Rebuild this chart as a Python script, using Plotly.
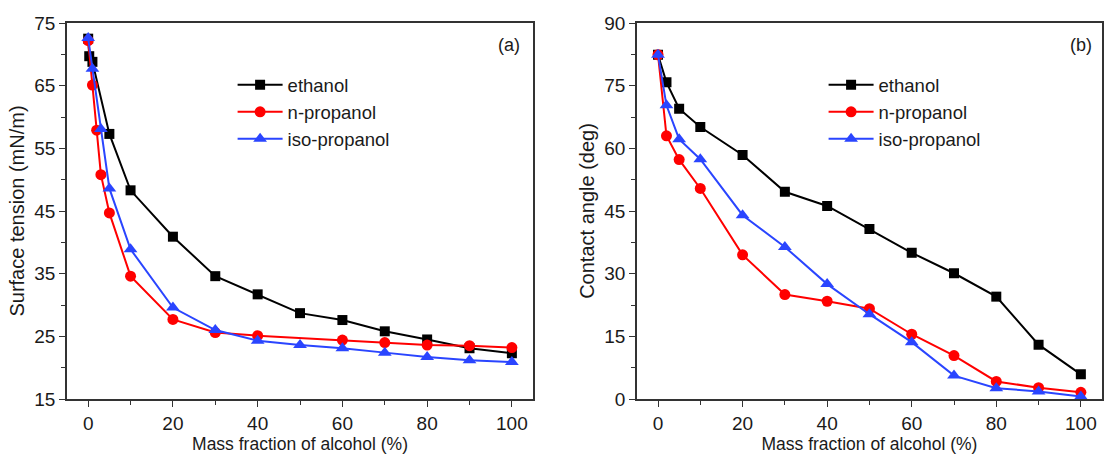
import plotly.graph_objects as go
from plotly.subplots import make_subplots

# Surface tension (mN/m) vs mass fraction of alcohol (%)
st_eth_x = [0, 0.25, 1, 5, 10, 20, 30, 40, 50, 60, 70, 80, 90, 100]
st_eth_y = [72.5, 69.7, 68.8, 57.3, 48.3, 40.9, 34.6, 31.7, 28.7, 27.6, 25.8, 24.5, 23.1, 22.3]
st_npr_x = [0, 1, 2, 3, 5, 10, 20, 30, 40, 60, 70, 80, 90, 100]
st_npr_y = [72.2, 65.1, 57.9, 50.8, 44.7, 34.6, 27.7, 25.6, 25.1, 24.4, 24.0, 23.6, 23.5, 23.2]
st_iso_x = [0, 1, 3, 5, 10, 20, 30, 40, 50, 60, 70, 80, 90, 100]
st_iso_y = [72.6, 67.7, 58.1, 48.6, 38.9, 29.6, 26.0, 24.3, 23.6, 23.1, 22.4, 21.7, 21.2, 20.9]

# Contact angle (deg) vs mass fraction of alcohol (%)
ca_x = [0, 2, 5, 10, 20, 30, 40, 50, 60, 70, 80, 90, 100]
ca_eth_y = [82.4, 75.8, 69.5, 65.1, 58.4, 49.6, 46.2, 40.7, 35.0, 30.1, 24.5, 13.0, 5.9]
ca_npr_y = [82.4, 63.0, 57.3, 50.4, 34.5, 25.0, 23.4, 21.6, 15.5, 10.4, 4.2, 2.7, 1.6]
ca_iso_y = [82.4, 70.3, 62.2, 57.4, 44.0, 36.4, 27.5, 20.3, 13.6, 5.6, 2.6, 1.8, 0.6]

names = ["ethanol", "n-propanol", "iso-propanol"]
colors = ["#000000", "#ff0000", "#2a45ff"]
symbols = ["square", "circle", "triangle-up"]
sizes = [10, 11, 12]

FONT = "Liberation Sans, Arial"
TXT = "#1a1a1a"

fig = make_subplots(rows=1, cols=2, horizontal_spacing=0.1)

st_series = [(st_eth_x, st_eth_y), (st_npr_x, st_npr_y), (st_iso_x, st_iso_y)]
ca_series = [(ca_x, ca_eth_y), (ca_x, ca_npr_y), (ca_x, ca_iso_y)]

for i, (xs, ys) in enumerate(st_series):
    fig.add_trace(go.Scatter(
        x=xs, y=ys, name=names[i], mode="lines+markers",
        line=dict(color=colors[i], width=2),
        marker=dict(symbol=symbols[i], size=sizes[i], color=colors[i]),
        legend="legend"), row=1, col=1)

for i, (xs, ys) in enumerate(ca_series):
    fig.add_trace(go.Scatter(
        x=xs, y=ys, name=names[i], mode="lines+markers",
        line=dict(color=colors[i], width=2),
        marker=dict(symbol=symbols[i], size=sizes[i], color=colors[i]),
        legend="legend2"), row=1, col=2)

axis_common = dict(
    showline=True, linecolor="#333333", linewidth=1.5, mirror=True,
    ticks="outside", ticklen=6, tickwidth=1.3, tickcolor="#333333",
    showgrid=False, zeroline=False,
    tickfont=dict(family=FONT, size=19, color=TXT),
)
xtitle_font = dict(family=FONT, size=17.5, color=TXT)
ytitle_font = dict(family=FONT, size=20, color=TXT)

fig.update_xaxes(**axis_common, range=[-5, 105], tick0=0, dtick=20,
                 minor=dict(dtick=10, ticks="outside", ticklen=4, tickcolor="#333333"),
                 title=dict(text="Mass fraction of alcohol (%)", font=xtitle_font, standoff=4))
fig.update_xaxes(domain=[0, 0.4503], row=1, col=1)
fig.update_xaxes(domain=[0.5506, 1], row=1, col=2)

fig.update_yaxes(**axis_common)
fig.update_yaxes(range=[15, 75], tick0=15, dtick=10,
                 minor=dict(tick0=15, dtick=5, ticks="outside", ticklen=4, tickcolor="#333333"),
                 title=dict(text="Surface tension (mN/m)", font=ytitle_font, standoff=4),
                 row=1, col=1)
fig.update_yaxes(range=[0, 90], tick0=0, dtick=15,
                 minor=dict(tick0=0, dtick=7.5, ticks="outside", ticklen=4, tickcolor="#333333"),
                 title=dict(text="Contact angle (deg)", font=ytitle_font, standoff=4),
                 row=1, col=2)

legend_common = dict(
    bgcolor="rgba(0,0,0,0)", borderwidth=0, tracegroupgap=0,
    font=dict(family=FONT, size=18.5, color=TXT),
    xanchor="left", yanchor="top", itemwidth=45,
)
fig.update_layout(
    width=1105, height=461,
    margin=dict(l=67, r=1, t=23, b=62),
    plot_bgcolor="white", paper_bgcolor="white",
    showlegend=True,
    legend=dict(**legend_common, x=0.160, y=0.885),
    legend2=dict(**legend_common, x=0.731, y=0.885),
    annotations=[
        dict(text="(a)", x=0.427, y=0.941, xref="paper", yref="paper",
             xanchor="center", yanchor="middle", showarrow=False,
             font=dict(family=FONT, size=18, color=TXT)),
        dict(text="(b)", x=0.98, y=0.941, xref="paper", yref="paper",
             xanchor="center", yanchor="middle", showarrow=False,
             font=dict(family=FONT, size=18, color=TXT)),
    ],
)

fig.write_html("out.html")
